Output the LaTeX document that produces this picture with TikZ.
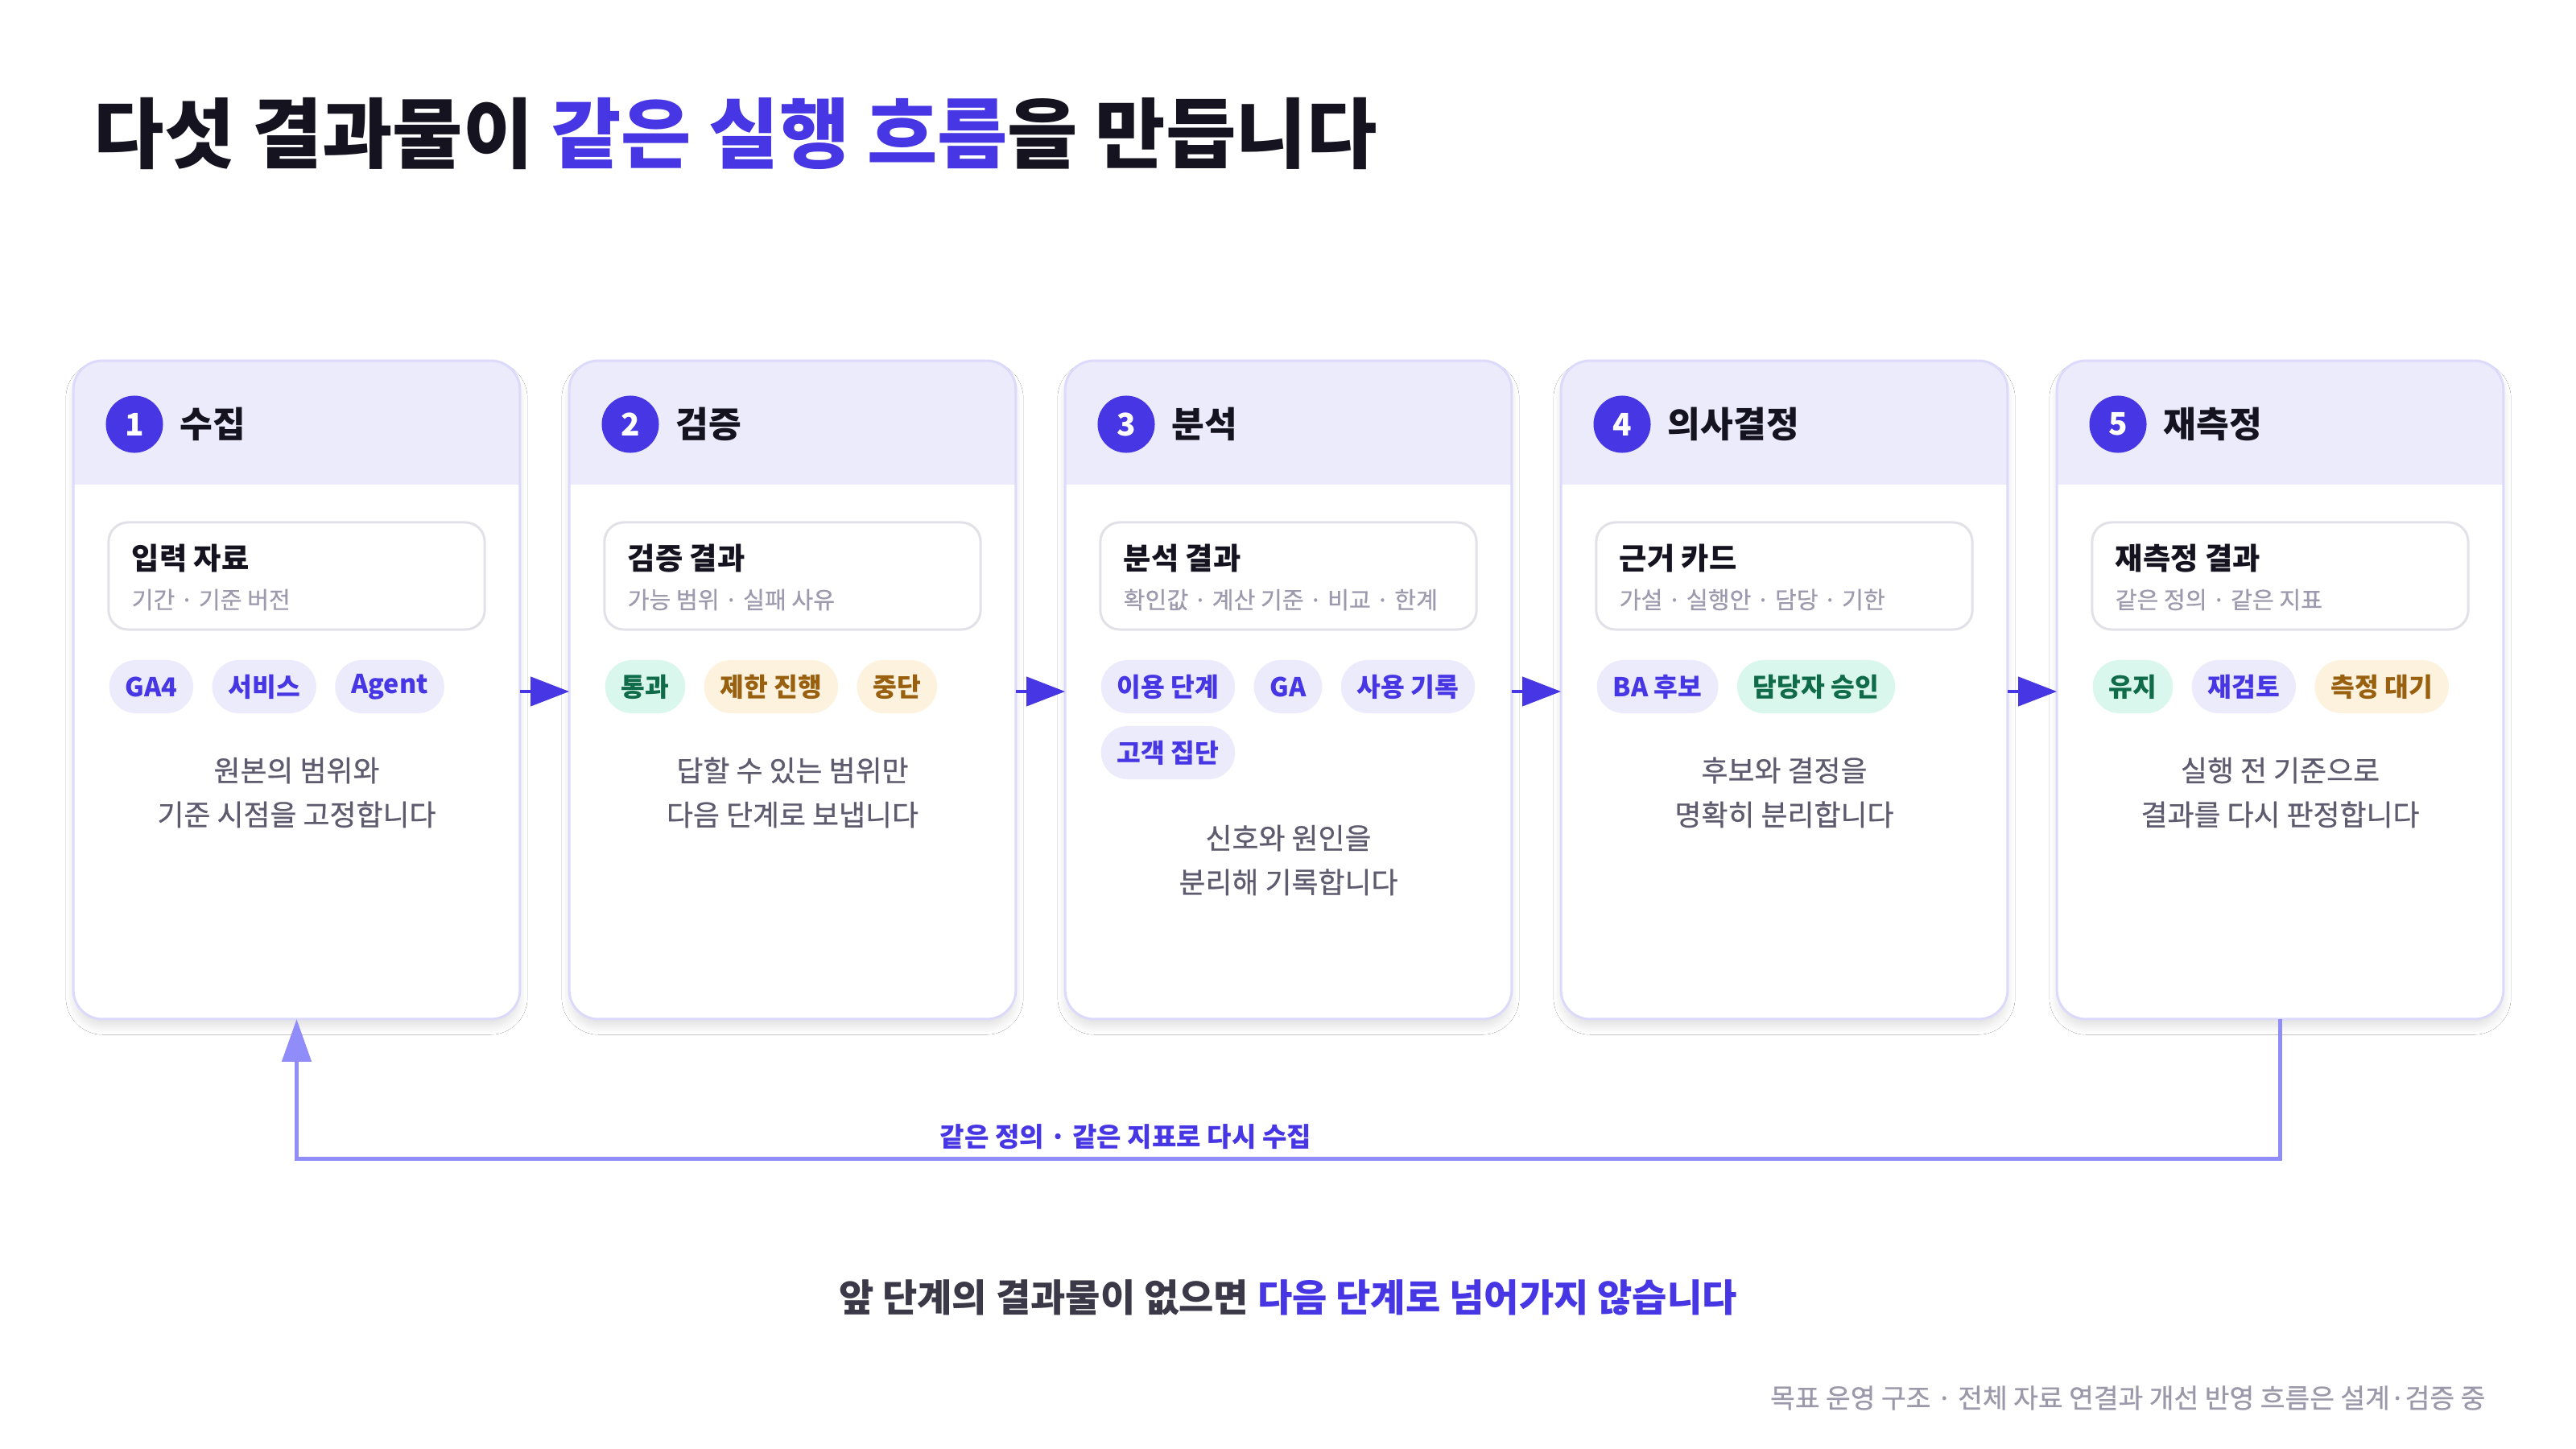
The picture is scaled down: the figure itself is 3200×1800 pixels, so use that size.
\documentclass[tikz,border=0pt]{standalone}
\usepackage{fontspec}
\setmainfont{Noto Sans CJK KR}
\newfontfamily\krmid{Noto Sans CJK KR}[FakeBold=0.6]
\usepackage{tikz}
\usetikzlibrary{positioning,arrows.meta,shadows.blur}

\definecolor{ink}{HTML}{15131F}
\definecolor{accent}{HTML}{4636E3}
\definecolor{cardrule}{HTML}{DCDAFB}
\definecolor{headfill}{HTML}{ECEBFB}
\definecolor{boxrule}{HTML}{E2E1E7}
\definecolor{subgray}{HTML}{9D9AAE}
\definecolor{descgray}{HTML}{5E5B6F}
\definecolor{loopviolet}{HTML}{908CF9}
\definecolor{footink}{HTML}{3B3947}
\definecolor{notegray}{HTML}{9A98A9}
\definecolor{lavbg}{HTML}{ECEBFC}
\definecolor{greenbg}{HTML}{D9F7EC}
\definecolor{greentext}{HTML}{0F6B4A}
\definecolor{amberbg}{HTML}{FDF2DE}
\definecolor{ambertext}{HTML}{98600F}

\newcommand\fTitle{\fontsize{27}{32}\selectfont\bfseries}
\newcommand\fHead{\fontsize{12.6}{15}\selectfont\bfseries}
\newcommand\fNum{\fontsize{11}{13}\selectfont\bfseries}
\newcommand\fBoxHead{\fontsize{10.6}{13}\selectfont\bfseries}
\newcommand\fBoxSub{\fontsize{8.3}{10}\selectfont\krmid}
\newcommand\fChip{\fontsize{9.2}{11}\selectfont\bfseries}
\newcommand\fDesc{\fontsize{10.2}{15.6}\selectfont\krmid}
\newcommand\fLoop{\fontsize{9.4}{11}\selectfont\bfseries}
\newcommand\fFoot{\fontsize{13.4}{16}\selectfont\bfseries}
\newcommand\fNote{\fontsize{9.5}{11}\selectfont\krmid}

\tikzset{
card/.style = {rectangle, rounded corners=0.36cm, fill=white, minimum width=5.53cm, minimum height=8.16cm,
  blur shadow={shadow xshift=0pt, shadow yshift=-0.1cm, shadow blur radius=0.1cm, shadow blur steps=12, shadow opacity=12}},
cardedge/.style = {draw=cardrule, line width=0.03cm, rounded corners=0.36cm},
numdot/.style = {circle, fill=accent, text=white, minimum size=0.71cm, inner sep=0, font=\fNum},
headtext/.style = {inner sep=0, text=ink, font=\fHead},
outbox/.style = {rectangle, draw=boxrule, line width=0.03cm, rounded corners=0.24cm, fill=white, minimum width=4.67cm, minimum height=1.33cm},
boxhead/.style = {anchor=west, inner sep=0, text=ink, font=\fBoxHead},
boxsub/.style = {anchor=west, inner sep=0, text=subgray, font=\fBoxSub},
desc/.style = {align=center, inner sep=0, text=descgray, font=\fDesc},
chip/.style = {rectangle, rounded corners=0.33cm, minimum height=0.66cm, inner xsep=0.2cm, inner ysep=0, font=\fChip},
chiplav/.style = {chip, fill=lavbg, text=accent},
chipgreen/.style = {chip, fill=greenbg, text=greentext},
chipamber/.style = {chip, fill=amberbg, text=ambertext},
flow/.style = {draw=accent, line width=0.04cm, -{Triangle[length=0.48cm, width=0.36cm]}},
backflow/.style = {draw=loopviolet, line width=0.05cm, -{Triangle[length=0.53cm, width=0.36cm]}},
looplabel/.style = {inner sep=0, text=accent, font=\fLoop}
}

\begin{document}
\begin{tikzpicture}[x=0.01cm, y=-0.01cm]
    \fill[white] (0,0) rectangle (3200,1800);
    \useasboundingbox (0,0) rectangle (3200,1800);

    \node[anchor=base west, inner sep=0, text=ink, font=\fTitle] (title) at (116,202)
        {다섯 결과물이 \textcolor{accent}{같은 실행 흐름}을 만듭니다};

    % five stage cards
    \foreach \i/\L/\name/\out/\sub/\dy/\desc in {
        1/92/수집/입력 자료/기간 · 기준 버전/984.5/원본의 범위와\\기준 시점을 고정합니다,
        2/708/검증/검증 결과/가능 범위 · 실패 사유/984.5/답할 수 있는 범위만\\다음 단계로 보냅니다,
        3/1324/분석/분석 결과/확인값 · 계산 기준 · 비교 · 한계/1068.5/신호와 원인을\\분리해 기록합니다,
        4/1940/의사결정/근거 카드/가설 · 실행안 · 담당 · 기한/984.5/후보와 결정을\\명확히 분리합니다,
        5/2556/재측정/재측정 결과/같은 정의 · 같은 지표/984.5/실행 전 기준으로\\결과를 다시 판정합니다} {
        \node[card] (c\i) at (\L+276.5,857) {};
        \begin{scope}
            \clip[rounded corners=0.36cm] (c\i.north west) rectangle (c\i.south east);
            \fill[headfill] (c\i.north west) rectangle (\L+553,602);
        \end{scope}
        \draw[cardedge] (c\i.north west) rectangle (c\i.south east);
        \node[numdot] (n\i) at (\L+75,527) {\i};
        \node[headtext, right=0.2cm of n\i] (h\i) {\name};
        \node[outbox] (b\i) at (\L+276.5,715.5) {};
        \node[boxhead] (bt\i) at (\L+71,694) {\out};
        \node[boxsub] (bs\i) at (\L+71,745) {\sub};
        \node[desc] (d\i) at (\L+276.5,\dy) {\desc};
    }

    % chips
    \node[chiplav, anchor=west] (k11) at (135,853) {GA4};
    \node[chiplav, right=0.22cm of k11] (k12) {서비스};
    \node[chiplav, right=0.22cm of k12] (k13) {Agent};

    \node[chipgreen, anchor=west] (k21) at (751,853) {통과};
    \node[chipamber, right=0.22cm of k21] (k22) {제한 진행};
    \node[chipamber, right=0.22cm of k22] (k23) {중단};

    \node[chiplav, anchor=west] (k31) at (1367,853) {이용 단계};
    \node[chiplav, right=0.22cm of k31] (k32) {GA};
    \node[chiplav, right=0.22cm of k32] (k33) {사용 기록};
    \node[chiplav, anchor=west] (k34) at (1367,935) {고객 집단};

    \node[chiplav, anchor=west] (k41) at (1983,853) {BA 후보};
    \node[chipgreen, right=0.22cm of k41] (k42) {담당자 승인};

    \node[chipgreen, anchor=west] (k51) at (2599,853) {유지};
    \node[chiplav, right=0.22cm of k51] (k52) {재검토};
    \node[chipamber, right=0.22cm of k52] (k53) {측정 대기};

    % forward arrows
    \foreach \a/\b in {1/2,2/3,3/4,4/5}
        \draw[flow] (c\a.east |- 0,859) -- (c\b.west |- 0,859);

    % loop back
    \draw[backflow] (c5.south) -- ++(0,174) coordinate (lowR)
        -| node[pos=0.291, above=0.1cm, looplabel] (lb) {같은 정의 · 같은 지표로 다시 수집} (c1.south);

    \node[anchor=base, inner sep=0, text=footink, font=\fFoot] (rule) at (1600,1629)
        {앞 단계의 결과물이 없으면 \textcolor{accent}{다음 단계로 넘어가지 않습니다}};
    \node[anchor=base east, inner sep=0, text=notegray, font=\fNote] (note) at (3088,1749)
        {목표 운영 구조 · 전체 자료 연결과 개선 반영 흐름은 설계·검증 중};
\end{tikzpicture}
\end{document}
